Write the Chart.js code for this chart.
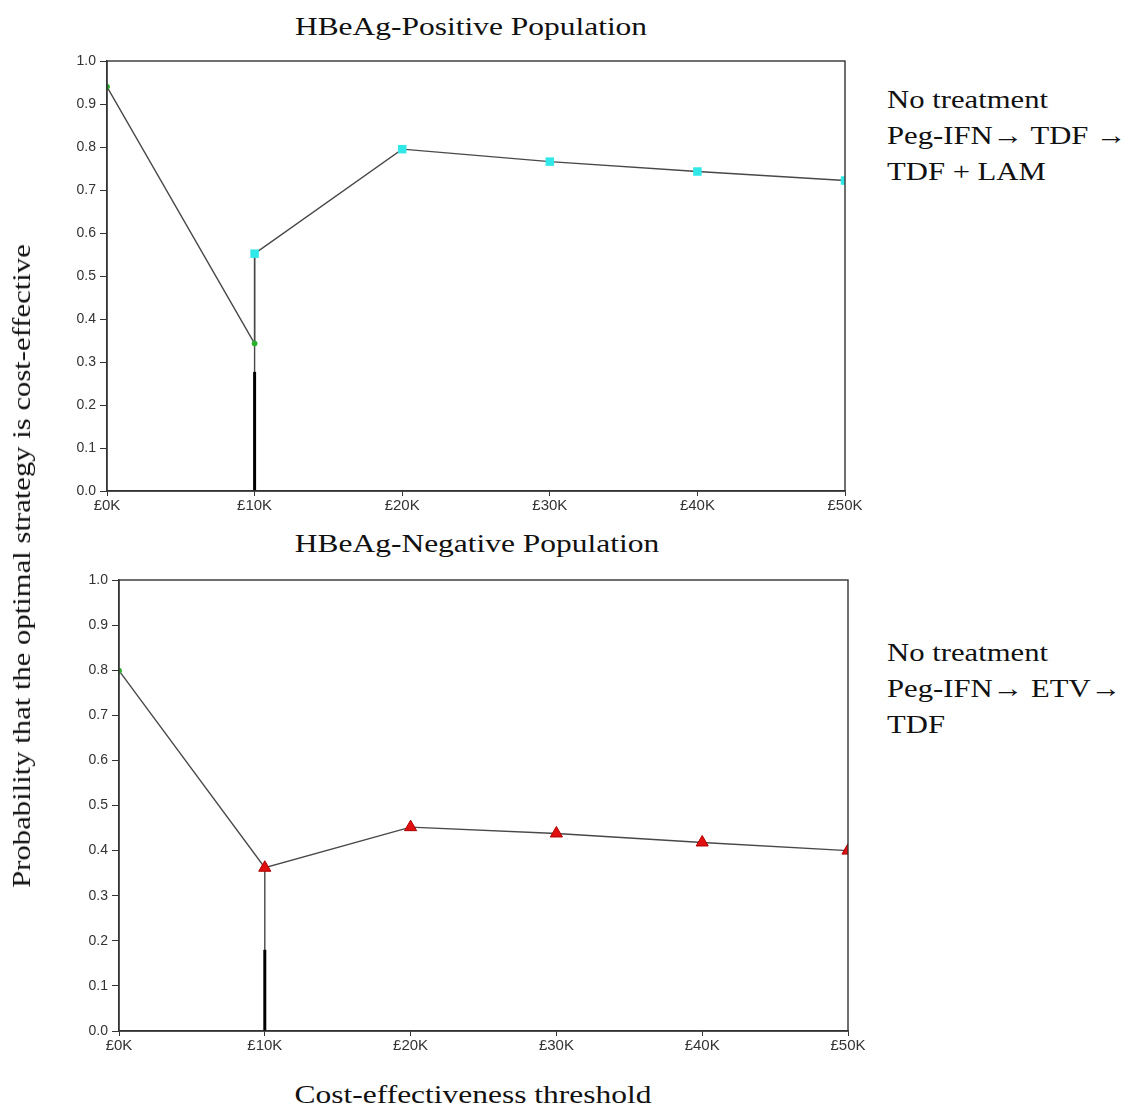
<!DOCTYPE html>
<html lang="en">
<head>
  <meta charset="UTF-8" />
  <title>Cost-effectiveness acceptability</title>
  <script src="https://cdn.jsdelivr.net/npm/chart.js"></script>
  <style>
    body {
      margin: 0;
      background: #fff;
      width: 1125px;
      height: 1108px;
      position: relative;
      overflow: hidden;
      font-family: "Liberation Serif", "Times New Roman", serif;
      color: #111;
    }
    .box { position: absolute; }
    .title {
      position: absolute;
      font-size: 26px;
      white-space: nowrap;
      transform: translateX(-50%) scaleX(1.21);
    }
    .legend {
      position: absolute;
      left: 887px;
      font-size: 26px;
      line-height: 36px;
      white-space: nowrap;
      transform-origin: 0 0;
      transform: scaleX(1.18);
    }
    #ytitle {
      position: absolute;
      left: 22px;
      top: 566px;
      font-size: 26px;
      white-space: nowrap;
      transform: translate(-50%, -50%) rotate(-90deg) scaleX(1.18);
    }
    #xtitle {
      position: absolute;
      left: 473px;
      top: 1080px;
      font-size: 26px;
      white-space: nowrap;
      transform: translateX(-50%) scaleX(1.21);
    }
  </style>
</head>
<body>
  <div class="title" style="left:471px; top:12px;">HBeAg-Positive Population</div>
  <div class="box" style="left:0; top:0; width:880px; height:520px;"><canvas id="posChart"></canvas></div>
  <div class="legend" style="top:82px;">No treatment<br>Peg-IFN&rarr; TDF &rarr;<br>TDF + LAM</div>

  <div class="title" style="left:477px; top:529px;">HBeAg-Negative Population</div>
  <div class="box" style="left:0; top:520px; width:880px; height:540px;"><canvas id="negChart"></canvas></div>
  <div class="legend" style="top:635px;">No treatment<br>Peg-IFN&rarr; ETV&rarr;<br>TDF</div>

  <div id="ytitle">Probability that the optimal strategy is cost-effective</div>
  <div id="xtitle">Cost-effectiveness threshold</div>

  <script>
    // thresholds (GBP) and probabilities
    const thresholds = [0, 10000, 20000, 30000, 40000, 50000];
    const yTicks = [0, 0.1, 0.2, 0.3, 0.4, 0.5, 0.6, 0.7, 0.8, 0.9, 1.0];

    // HBeAg-positive
    const posNoTreatment = [0.94, 0.343];
    const posStrategy = [null, 0.552, 0.795, 0.766, 0.743, 0.722];
    const posBar = 0.277;

    // HBeAg-negative
    const negNoTreatment = [0.799];
    const negStrategy = [null, 0.362, 0.452, 0.438, 0.418, 0.400];
    const negBar = 0.18;

    function toPoints(values) {
      const pts = [];
      values.forEach(function (v, i) {
        if (v !== null && v !== undefined) pts.push({ x: thresholds[i], y: v });
      });
      return pts;
    }

    // box around the plot area
    const frame = {
      id: 'frame',
      afterDraw(chart) {
        const a = chart.chartArea;
        const ctx = chart.ctx;
        ctx.save();
        ctx.strokeStyle = '#333';
        ctx.lineWidth = 1.4;
        ctx.strokeRect(a.left, a.top, a.right - a.left, a.bottom - a.top);
        ctx.restore();
      }
    };

    function makeChart(id, noTreat, strategy, bar, opts) {
      const noPts = toPoints(noTreat);
      const stPts = toPoints(strategy);
      const frontier = noPts.concat(stPts);
      const dropX = thresholds[1];
      const dropTop = strategy[1];

      const stratDataset = opts.triangle ? {
        data: stPts,
        showLine: false,
        pointStyle: 'triangle',
        pointRadius: 7,
        pointBackgroundColor: '#e01010',
        pointBorderColor: '#b00000',
        pointBorderWidth: 1
      } : {
        data: stPts,
        showLine: false,
        pointStyle: 'rect',
        pointRadius: 6,
        pointBackgroundColor: '#30e8e8',
        pointBorderColor: '#30e8e8',
        pointBorderWidth: 0
      };

      return new Chart(document.getElementById(id), {
        type: 'scatter',
        data: {
          datasets: [
            {
              data: frontier,
              showLine: true,
              borderColor: '#484848',
              borderWidth: 1.4,
              pointRadius: 0,
              order: 5
            },
            {
              data: [{ x: dropX, y: dropTop }, { x: dropX, y: 0 }],
              showLine: true,
              borderColor: '#484848',
              borderWidth: 1.4,
              pointRadius: 0,
              order: 5
            },
            {
              data: [{ x: dropX, y: 0 }, { x: dropX, y: bar }],
              showLine: true,
              borderColor: '#000',
              borderWidth: 3,
              pointRadius: 0,
              order: 4
            },
            {
              data: noPts,
              showLine: false,
              pointStyle: 'circle',
              pointRadius: 2.5,
              pointBackgroundColor: '#2ab02a',
              pointBorderColor: '#2ab02a',
              order: 2
            },
            Object.assign({ order: 1 }, stratDataset)
          ]
        },
        options: {
          responsive: true,
          maintainAspectRatio: false,
          animation: false,
          layout: { padding: { top: opts.top, right: opts.right, left: 0, bottom: 0 } },
          plugins: { legend: { display: false }, tooltip: { enabled: false } },
          scales: {
            x: {
              type: 'linear',
              min: 0,
              max: 50000,
              afterBuildTicks(scale) {
                scale.ticks = thresholds.map(function (v) { return { value: v }; });
              },
              afterFit(scale) { scale.height = 29; },
              grid: { drawOnChartArea: false, tickLength: 5, color: '#333' },
              border: { color: '#333', width: 1.4 },
              ticks: {
                padding: 1,
                color: '#333',
                font: { family: 'Liberation Sans, Arial', size: 15 },
                callback: function (v) { return '£' + (v / 1000) + 'K'; }
              }
            },
            y: {
              min: 0,
              max: 1,
              afterBuildTicks(scale) {
                scale.ticks = yTicks.map(function (v) { return { value: v }; });
              },
              afterFit(scale) { scale.width = opts.left; },
              grid: { drawOnChartArea: false, tickLength: 7, color: '#333' },
              border: { color: '#333', width: 1.4 },
              ticks: {
                padding: 4,
                color: '#333',
                font: { family: 'Liberation Sans, Arial', size: 14 },
                callback: function (v) { return v.toFixed(1); }
              }
            }
          }
        },
        plugins: [frame]
      });
    }

    makeChart('posChart', posNoTreatment, posStrategy, posBar, { top: 61, right: 35, left: 107, triangle: false });
    makeChart('negChart', negNoTreatment, negStrategy, negBar, { top: 60, right: 32, left: 119, triangle: true });
  </script>
</body>
</html>
